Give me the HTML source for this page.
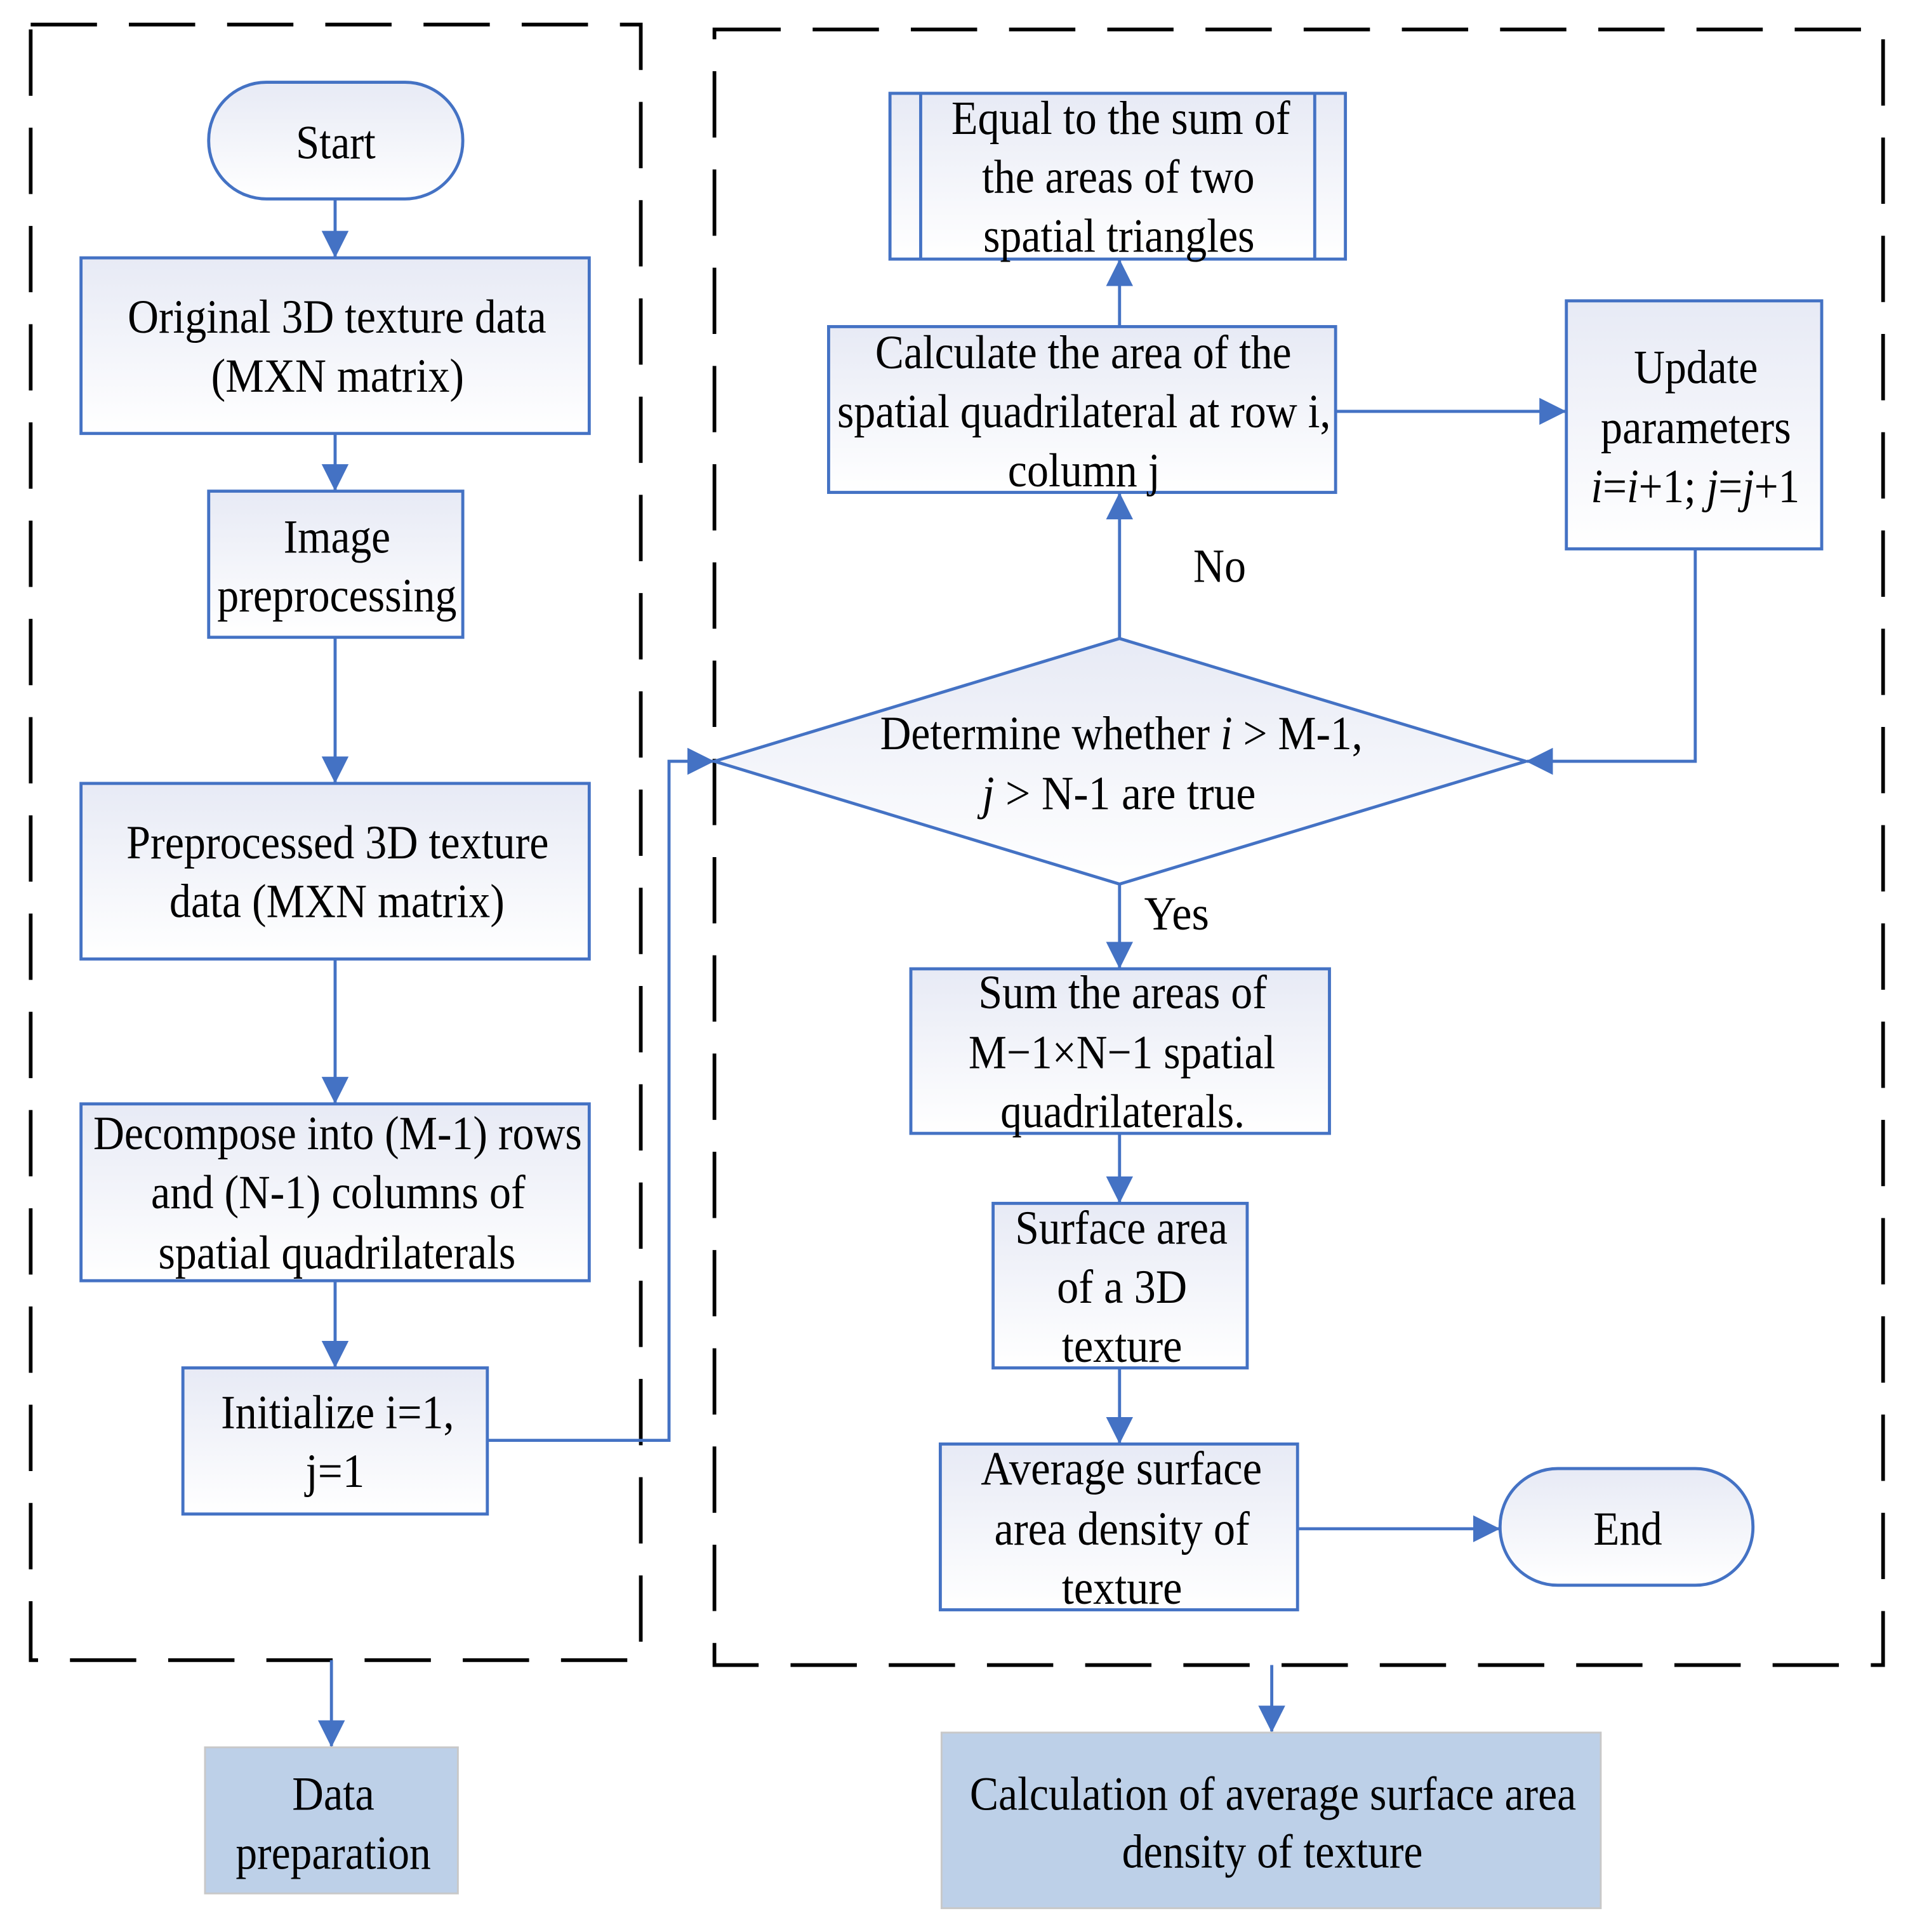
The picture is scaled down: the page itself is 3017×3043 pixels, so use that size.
<!DOCTYPE html>
<html><head><meta charset="utf-8"><style>html,body{margin:0;padding:0;background:#fff}svg{display:block}</style></head>
<body>
<svg width="3017" height="3043" viewBox="0 0 1560 1573.4" preserveAspectRatio="none" xmlns="http://www.w3.org/2000/svg">
<defs>
<linearGradient id="g" x1="0" y1="0" x2="0" y2="1"><stop offset="0" stop-color="#e7eaf5"/><stop offset="1" stop-color="#ffffff"/></linearGradient>
<marker id="b" markerWidth="22" markerHeight="22" refX="21" refY="11" orient="auto" markerUnits="userSpaceOnUse"><path d="M0,0 L22,11 L0,22 Z" fill="#4472c4"/></marker>
</defs>
<g fill="none" stroke="#000" stroke-width="3" stroke-dasharray="54 26">
<rect x="25" y="20" width="497" height="1332"/>
<rect x="582" y="24" width="952" height="1332"/>
</g>
<g stroke="#4472c4" stroke-width="2.5" fill="none">
<path d="M273,162 V209" marker-end="url(#b)"/>
<path d="M273,353 V399" marker-end="url(#b)"/>
<path d="M273,519 V637" marker-end="url(#b)"/>
<path d="M273,781 V898" marker-end="url(#b)"/>
<path d="M273,1043 V1113" marker-end="url(#b)"/>
<path d="M397,1173 H545 V620 H581" marker-end="url(#b)"/>
<path d="M912,520 V402" marker-end="url(#b)"/>
<path d="M912,266 V212" marker-end="url(#b)"/>
<path d="M1088,335 H1275" marker-end="url(#b)"/>
<path d="M1381,447 V620 H1244" marker-end="url(#b)"/>
<path d="M912,720 V788" marker-end="url(#b)"/>
<path d="M912,923 V979" marker-end="url(#b)"/>
<path d="M912,1114 V1175" marker-end="url(#b)"/>
<path d="M1057,1245 H1221" marker-end="url(#b)"/>
<path d="M270,1352 V1422" marker-end="url(#b)"/>
<path d="M1036,1356 V1410" marker-end="url(#b)"/>
</g>
<g stroke="#4472c4" stroke-width="2.5" fill="url(#g)">
<rect x="170" y="67" width="207" height="95" rx="47"/>
<rect x="66" y="210" width="414" height="143"/>
<rect x="170" y="400" width="207" height="119"/>
<rect x="66" y="638" width="414" height="143"/>
<rect x="66" y="899" width="414" height="144"/>
<rect x="149" y="1114" width="248" height="119"/>
<path d="M582,620 L912,520 L1243,620 L912,720 Z"/>
<rect x="675" y="266" width="413" height="135"/>
<rect x="725" y="76" width="371" height="135"/>
<rect x="1276" y="245" width="208" height="202"/>
<rect x="742" y="789" width="341" height="134"/>
<rect x="809" y="980" width="207" height="134"/>
<rect x="766" y="1176" width="291" height="135"/>
<rect x="1222" y="1196" width="206" height="95" rx="47"/>
</g>
<path d="M750,76 V211 M1071,76 V211" stroke="#4472c4" stroke-width="2.5"/>
<rect x="167" y="1423" width="206" height="119" fill="#bdd0e8" stroke="#c8c8c8" stroke-width="1.5"/>
<rect x="767" y="1411" width="537" height="143" fill="#bdd0e8" stroke="#c8c8c8" stroke-width="1.5"/>
<g font-family="Liberation Serif, serif" font-size="39" fill="#000">
<text x="241" y="129" textLength="65" lengthAdjust="spacingAndGlyphs">Start</text>
<text x="104" y="271" textLength="341" lengthAdjust="spacingAndGlyphs">Original 3D texture data</text>
<text x="172" y="319" textLength="206" lengthAdjust="spacingAndGlyphs">(MXN matrix)</text>
<text x="231" y="450" textLength="87" lengthAdjust="spacingAndGlyphs">Image</text>
<text x="177" y="498" textLength="195" lengthAdjust="spacingAndGlyphs">preprocessing</text>
<text x="103" y="699" textLength="344" lengthAdjust="spacingAndGlyphs">Preprocessed 3D texture</text>
<text x="138" y="747" textLength="273" lengthAdjust="spacingAndGlyphs">data (MXN matrix)</text>
<text x="76" y="936" textLength="398" lengthAdjust="spacingAndGlyphs">Decompose into (M-1) rows</text>
<text x="123" y="984" textLength="305" lengthAdjust="spacingAndGlyphs">and (N-1) columns of</text>
<text x="129" y="1033" textLength="291" lengthAdjust="spacingAndGlyphs">spatial quadrilaterals</text>
<text x="180" y="1163" textLength="190" lengthAdjust="spacingAndGlyphs">Initialize i=1,</text>
<text x="249" y="1211" textLength="48" lengthAdjust="spacingAndGlyphs">j=1</text>
<text x="775" y="109" textLength="276" lengthAdjust="spacingAndGlyphs">Equal to the sum of</text>
<text x="800" y="157" textLength="222" lengthAdjust="spacingAndGlyphs">the areas of two</text>
<text x="801" y="205" textLength="221" lengthAdjust="spacingAndGlyphs">spatial triangles</text>
<text x="713" y="300" textLength="339" lengthAdjust="spacingAndGlyphs">Calculate the area of the</text>
<text x="682" y="348" textLength="402" lengthAdjust="spacingAndGlyphs">spatial quadrilateral at row i,</text>
<text x="821" y="396" textLength="124" lengthAdjust="spacingAndGlyphs">column j</text>
<text x="1331" y="312" textLength="101" lengthAdjust="spacingAndGlyphs">Update</text>
<text x="1304" y="361" textLength="155" lengthAdjust="spacingAndGlyphs">parameters</text>
<text x="1296" y="409" textLength="170" lengthAdjust="spacingAndGlyphs"><tspan font-style="italic">i</tspan>=<tspan font-style="italic">i</tspan>+1; <tspan font-style="italic">j</tspan>=<tspan font-style="italic">j</tspan>+1</text>
<text x="972" y="474" textLength="43" lengthAdjust="spacingAndGlyphs">No</text>
<text x="717" y="610" textLength="393" lengthAdjust="spacingAndGlyphs">Determine whether <tspan font-style="italic">i</tspan> &gt; M-1,</text>
<text x="800" y="659" textLength="223" lengthAdjust="spacingAndGlyphs"><tspan font-style="italic">j</tspan> &gt; N-1 are true</text>
<text x="932" y="757" textLength="53" lengthAdjust="spacingAndGlyphs">Yes</text>
<text x="797" y="821" textLength="235" lengthAdjust="spacingAndGlyphs">Sum the areas of</text>
<text x="789" y="870" textLength="250" lengthAdjust="spacingAndGlyphs">M−1×N−1 spatial</text>
<text x="815" y="918" textLength="199" lengthAdjust="spacingAndGlyphs">quadrilaterals.</text>
<text x="827" y="1013" textLength="173" lengthAdjust="spacingAndGlyphs">Surface area</text>
<text x="861" y="1061" textLength="106" lengthAdjust="spacingAndGlyphs">of a 3D</text>
<text x="865" y="1109" textLength="98" lengthAdjust="spacingAndGlyphs">texture</text>
<text x="799" y="1209" textLength="229" lengthAdjust="spacingAndGlyphs">Average surface</text>
<text x="810" y="1258" textLength="208" lengthAdjust="spacingAndGlyphs">area density of</text>
<text x="865" y="1306" textLength="98" lengthAdjust="spacingAndGlyphs">texture</text>
<text x="1298" y="1258" textLength="56" lengthAdjust="spacingAndGlyphs">End</text>
<text x="238" y="1474" textLength="67" lengthAdjust="spacingAndGlyphs">Data</text>
<text x="192" y="1522" textLength="159" lengthAdjust="spacingAndGlyphs">preparation</text>
<text x="790" y="1474" textLength="494" lengthAdjust="spacingAndGlyphs">Calculation of average surface area</text>
<text x="914" y="1521" textLength="245" lengthAdjust="spacingAndGlyphs">density of texture</text>
</g>
</svg>
</body></html>
